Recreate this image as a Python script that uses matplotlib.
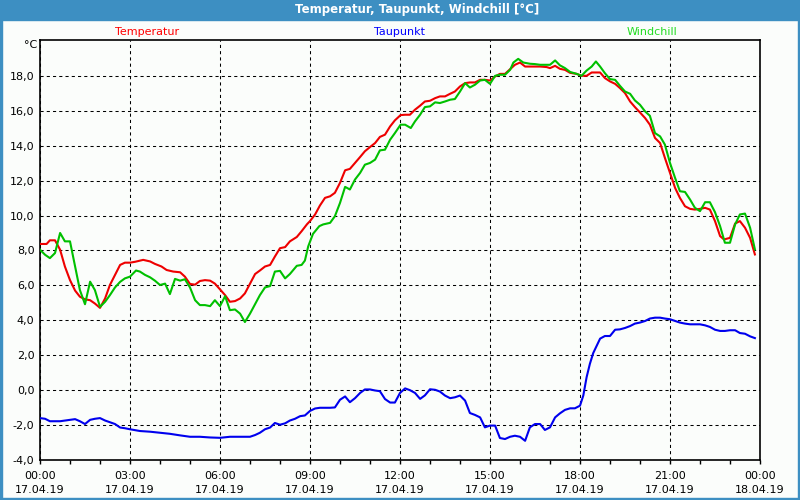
import matplotlib.pyplot as plt
import matplotlib.dates as mdates
from matplotlib.patches import Rectangle
from matplotlib.ticker import FuncFormatter, FixedLocator
import numpy as np
import pandas as pd

# Messwerte vom 17.04.19 (Stunden seit Mitternacht, Werte in °C)
temp_h = [0, 0.22, 0.33, 0.5, 0.67, 0.83, 1.0, 1.17, 1.33, 1.5, 1.67, 1.83, 2.0, 2.17, 2.33, 2.5,
          2.67, 2.83, 3.0, 3.17, 3.44, 3.67, 3.83, 4.05, 4.22, 4.44, 4.67, 4.83, 5.0, 5.17, 5.33,
          5.5, 5.67, 5.83, 6.0, 6.17, 6.33, 6.5, 6.67, 6.83, 7.0, 7.17, 7.33, 7.5, 7.67, 7.83, 8.0,
          8.17, 8.33, 8.56, 8.72, 8.9, 9.0, 9.17, 9.33, 9.5, 9.67, 9.83, 10.0, 10.17, 10.33, 10.5,
          10.67, 10.83, 11.0, 11.17, 11.33, 11.5, 11.67, 11.83, 12.02, 12.17, 12.33, 12.5, 12.67,
          12.83, 13.0, 13.17, 13.33, 13.5, 13.67, 13.83, 14.0, 14.17, 14.33, 14.5, 14.67, 14.83,
          15.0, 15.17, 15.33, 15.5, 15.67, 15.83, 16.0, 16.17, 16.33, 16.67, 16.89, 17.0, 17.17,
          17.33, 17.5, 17.67, 17.89, 18.05, 18.22, 18.39, 18.67, 18.83, 19.0, 19.17, 19.33, 19.5,
          19.67, 19.83, 20.0, 20.17, 20.33, 20.5, 20.67, 20.83, 21.0, 21.17, 21.33, 21.5, 21.67,
          21.83, 22.0, 22.17, 22.33, 22.5, 22.67, 22.8, 23.0, 23.17, 23.33, 23.5, 23.67, 23.83]
temp_v = [8.37, 8.37, 8.58, 8.58, 8.04, 7.08, 6.3, 5.7, 5.35, 5.2, 5.15, 4.96, 4.71, 5.25, 6.02, 6.6,
          7.17, 7.3, 7.3, 7.35, 7.46, 7.37, 7.23, 7.08, 6.88, 6.79, 6.75, 6.5, 6.08, 6.04, 6.25,
          6.3, 6.27, 6.1, 5.77, 5.44, 5.06, 5.1, 5.25, 5.54, 6.1, 6.65, 6.85, 7.08, 7.17, 7.65, 8.13,
          8.19, 8.52, 8.77, 9.1, 9.5, 9.68, 10.06, 10.57, 11.01, 11.1, 11.3, 11.87, 12.59, 12.67, 13.01,
          13.35, 13.68, 13.92, 14.15, 14.5, 14.63, 15.1, 15.45, 15.75, 15.77, 15.77, 16.06, 16.29,
          16.53, 16.57, 16.72, 16.82, 16.82, 16.97, 17.1, 17.39, 17.58, 17.62, 17.62, 17.77, 17.77,
          17.73, 17.96, 18.11, 18.11, 18.38, 18.63, 18.76, 18.53, 18.53, 18.53, 18.5, 18.44, 18.57,
          18.4, 18.34, 18.17, 18.11, 18.0, 18.0, 18.19, 18.19, 17.87, 17.68, 17.54, 17.3, 17.01,
          16.53, 16.21, 15.9, 15.58, 15.2, 14.44, 14.15, 13.3, 12.44, 11.58, 11.01, 10.53, 10.38,
          10.34, 10.38, 10.44, 10.34, 9.68, 8.82, 8.63, 8.72, 9.54, 9.68, 9.3, 8.72, 7.77]

wind_h = [0, 0.17, 0.33, 0.5, 0.67, 0.83, 1.0, 1.17, 1.33, 1.5, 1.67, 1.83, 2.0, 2.17, 2.33, 2.5,
          2.67, 2.83, 3.0, 3.2, 3.33, 3.5, 3.67, 3.83, 4.0, 4.17, 4.33, 4.5, 4.67, 4.83, 5.0, 5.17,
          5.33, 5.5, 5.67, 5.83, 6.0, 6.17, 6.33, 6.5, 6.67, 6.83, 7.0, 7.17, 7.33, 7.5, 7.67, 7.83,
          8.0, 8.17, 8.33, 8.56, 8.72, 8.83, 8.94, 9.1, 9.31, 9.44, 9.67, 9.83, 10.0, 10.17, 10.33,
          10.5, 10.67, 10.83, 11.0, 11.17, 11.33, 11.5, 11.67, 11.83, 12.02, 12.17, 12.36, 12.5,
          12.67, 12.83, 13.0, 13.17, 13.33, 13.5, 13.67, 13.83, 14.0, 14.17, 14.33, 14.5, 14.67,
          14.83, 15.0, 15.17, 15.33, 15.5, 15.67, 15.78, 15.94, 16.11, 16.33, 16.5, 16.67, 17.0,
          17.17, 17.33, 17.5, 17.67, 17.89, 18.05, 18.22, 18.39, 18.53, 18.67, 18.83, 19.0, 19.17,
          19.33, 19.5, 19.67, 19.83, 20.0, 20.17, 20.33, 20.5, 20.67, 20.83, 21.0, 21.17, 21.33,
          21.5, 21.67, 21.83, 22.0, 22.17, 22.33, 22.5, 22.67, 22.83, 23.0, 23.17, 23.33, 23.5,
          23.67, 23.83]
wind_v = [8.04, 7.75, 7.56, 7.85, 9.0, 8.52, 8.52, 7.08, 5.73, 4.92, 6.21, 5.73, 4.77, 5.06, 5.44, 5.88,
          6.2, 6.4, 6.5, 6.85, 6.79, 6.6, 6.46, 6.27, 6.02, 6.1, 5.5, 6.37, 6.27, 6.35, 5.88, 5.15,
          4.87, 4.87, 4.81, 5.15, 4.81, 5.38, 4.58, 4.62, 4.38, 3.9, 4.38, 4.92, 5.44, 5.88, 5.96, 6.79,
          6.83, 6.4, 6.65, 7.12, 7.17, 7.42, 8.23, 8.95, 9.39, 9.49, 9.58, 9.96, 10.72, 11.64, 11.49,
          12.06, 12.44, 12.91, 13.01, 13.2, 13.73, 13.77, 14.34, 14.72, 15.2, 15.2, 15.01, 15.39,
          15.77, 16.21, 16.25, 16.48, 16.44, 16.53, 16.63, 16.67, 17.1, 17.58, 17.33, 17.49, 17.73,
          17.77, 17.54, 18.0, 18.06, 18.06, 18.34, 18.76, 18.97, 18.76, 18.69, 18.67, 18.63, 18.63,
          18.88, 18.6, 18.44, 18.22, 18.11, 18.0, 18.3, 18.53, 18.82, 18.53, 18.15, 17.81, 17.77,
          17.43, 17.1, 16.97, 16.59, 16.34, 15.96, 15.71, 14.72, 14.53, 14.06, 13.01, 12.15, 11.39,
          11.35, 10.91, 10.44, 10.25, 10.76, 10.76, 10.19, 9.39, 8.44, 8.44, 9.49, 10.06, 10.11,
          9.3, 8.06]

dew_h = [0, 0.17, 0.33, 0.67, 0.83, 1.0, 1.17, 1.33, 1.5, 1.67, 1.83, 2.0, 2.17, 2.33, 2.5, 2.67,
         2.83, 3.0, 3.33, 3.67, 4.0, 4.33, 4.67, 5.0, 5.33, 5.67, 6.0, 6.33, 7.0, 7.17, 7.33, 7.5,
         7.67, 7.83, 8.0, 8.17, 8.33, 8.5, 8.67, 8.83, 9.0, 9.17, 9.33, 9.67, 9.83, 10.0, 10.17,
         10.33, 10.5, 10.67, 10.83, 11.0, 11.17, 11.33, 11.5, 11.67, 11.83, 12.0, 12.17, 12.33,
         12.5, 12.67, 12.83, 13.0, 13.17, 13.33, 13.5, 13.67, 13.83, 14.0, 14.17, 14.33, 14.5,
         14.67, 14.83, 15.0, 15.17, 15.33, 15.5, 15.67, 15.83, 16.0, 16.17, 16.33, 16.5, 16.67,
         16.83, 17.0, 17.17, 17.33, 17.5, 17.67, 17.83, 18.0, 18.11, 18.22, 18.33, 18.44, 18.56,
         18.67, 18.83, 19.0, 19.17, 19.33, 19.5, 19.67, 19.83, 20.0, 20.17, 20.33, 20.5, 20.67,
         20.83, 21.0, 21.17, 21.33, 21.5, 21.67, 22.0, 22.17, 22.33, 22.5, 22.67, 22.83, 23.0,
         23.17, 23.33, 23.5, 23.67, 23.83]
dew_v = [-1.6, -1.64, -1.78, -1.78, -1.74, -1.7, -1.66, -1.78, -1.94, -1.7, -1.64, -1.6, -1.74, -1.84,
         -1.94, -2.14, -2.18, -2.24, -2.34, -2.38, -2.44, -2.5, -2.59, -2.67, -2.67, -2.71, -2.73,
         -2.67, -2.67, -2.57, -2.44, -2.24, -2.14, -1.88, -1.98, -1.9, -1.74, -1.64, -1.49, -1.45,
         -1.19, -1.05, -1.01, -1.01, -0.99, -0.55, -0.36, -0.69, -0.46, -0.16, 0.04, 0.04, -0.02,
         -0.06, -0.51, -0.71, -0.71, -0.16, 0.1, 0.0, -0.16, -0.5, -0.3, 0.05, 0.02, -0.08, -0.31,
         -0.46, -0.41, -0.31, -0.6, -1.31, -1.42, -1.56, -2.13, -2.03, -2.03, -2.74, -2.8, -2.67,
         -2.61, -2.67, -2.9, -2.13, -1.94, -1.94, -2.28, -2.13, -1.56, -1.33, -1.13, -1.04, -1.04,
         -0.89, -0.31, 0.74, 1.51, 2.12, 2.56, 2.95, 3.1, 3.1, 3.46, 3.48, 3.56, 3.67, 3.81, 3.87,
         3.96, 4.1, 4.15, 4.15, 4.1, 4.06, 3.96, 3.87, 3.81, 3.77, 3.77, 3.71, 3.62, 3.46, 3.39,
         3.39, 3.43, 3.43, 3.27, 3.23, 3.08, 2.98]

y_ticks = [-4, -2, 0, 2, 4, 6, 8, 10, 12, 14, 16, 18]

start = pd.Timestamp('2019-04-17')


def zeit(h):
    return (start + pd.to_timedelta(np.array(h), unit='h')).to_numpy()


fig = plt.figure(figsize=(8, 5), dpi=100, facecolor='#fbfdfb')

# Fensterrahmen und Titelleiste
blau = '#3d8fc2'
fig.patches.append(Rectangle((0, 1 - 20 / 500), 1, 20 / 500, transform=fig.transFigure, color=blau))
fig.patches.append(Rectangle((0, 0), 2 / 800, 1, transform=fig.transFigure, color=blau))
fig.patches.append(Rectangle((1 - 2 / 800, 0), 2 / 800, 1, transform=fig.transFigure, color=blau))
fig.patches.append(Rectangle((0, 0), 1, 2 / 500, transform=fig.transFigure, color=blau))
fig.text(417 / 800, 1 - 10 / 500, 'Temperatur, Taupunkt, Windchill [°C]', color='white',
         fontsize=8.5, fontweight='bold', ha='center', va='center')

ax = fig.add_axes([40 / 800, 40 / 500, 720 / 800, 420 / 500])
ax.set_facecolor('#fbfdfb')

ax.plot(zeit(temp_h), temp_v, color='#ee0000', lw=1.5, zorder=3)
ax.plot(zeit(dew_h), dew_v, color='#0000ee', lw=1.5, zorder=3)
ax.plot(zeit(wind_h), wind_v, color='#00c000', lw=1.5, zorder=4)

ax.set_xlim(start, start + pd.Timedelta(hours=24))
ax.set_ylim(-4, 20.05)

ax.xaxis.set_major_locator(mdates.HourLocator(byhour=range(0, 24, 3)))
ax.xaxis.set_minor_locator(mdates.HourLocator())
ax.xaxis.set_major_formatter(mdates.DateFormatter('%H:%M\n%d.%m.%y'))
ax.yaxis.set_major_locator(FixedLocator(y_ticks))
ax.yaxis.set_major_formatter(FuncFormatter(lambda v, p: f'{v:.1f}'.replace('.', ',')))

ax.tick_params(axis='x', which='both', direction='out', length=3, width=1, colors='black',
               labelsize=8, pad=5)
ax.tick_params(axis='y', length=0, labelsize=8, pad=4)
for lab in ax.get_xticklabels():
    lab.set_linespacing(1.5)

ax.grid(True, which='major', color='black', lw=0.75, linestyle=(0, (3, 3)))
for s in ax.spines.values():
    s.set_linewidth(1.2)

# Legende oben
fig.text(147 / 800, 1 - 32 / 500, 'Temperatur', color='#ff0000', fontsize=8, ha='center', va='center')
fig.text(399 / 800, 1 - 32 / 500, 'Taupunkt', color='#0000ff', fontsize=8, ha='center', va='center')
fig.text(652 / 800, 1 - 32 / 500, 'Windchill', color='#22dd22', fontsize=8, ha='center', va='center')
fig.text(31 / 800, 1 - 45 / 500, '°C', color='black', fontsize=8, ha='center', va='center')

plt.savefig('out.png', dpi=100, facecolor=fig.get_facecolor())
